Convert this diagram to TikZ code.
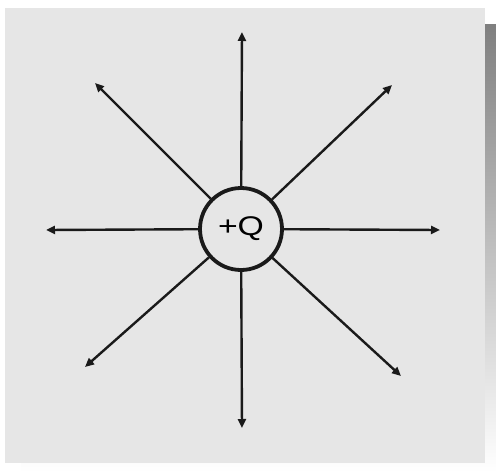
\documentclass[tikz,border=0pt]{standalone}
\usepackage{fontspec}
\setsansfont{Liberation Sans}
\usepackage{tikz}
\usetikzlibrary{arrows.meta,positioning,calc}
\definecolor{panel}{HTML}{E6E6E6}
\definecolor{shade}{HTML}{BDBDBD}
\definecolor{ink}{HTML}{1A1A1A}
\tikzset{
  chg/.style={draw=ink,circle,line width=3.8pt,fill=panel,minimum size=82pt,inner sep=0pt,font=\sffamily\fontsize{27}{27}\selectfont},
  arr/.style={-{Triangle[length=9pt,width=8pt]},line width=2.4pt,draw=ink},
}

\begin{document}
\begin{tikzpicture}[x=1pt,y=-1pt]
 \useasboundingbox (0,0) rectangle (496,472);
 \fill[shade] (21,24) rectangle (496,472);
 \fill[panel] (5,8) rectangle (485,463);
 % field lines
 \coordinate (tn) at (242,32);
 \coordinate (ts) at (242,428);
 \coordinate (tw) at (46,230);
 \coordinate (te) at (440,230);
 \coordinate (tnw) at (95,83);
 \coordinate (tne) at (392,85);
 \coordinate (tsw) at (85,367);
 \coordinate (tse) at (401,376);
 \node[chg] (q) at (241,229) {\scalebox{1.25}[1]{+Q}};
 \foreach \t in {tn,ts,tw,te,tnw,tne,tsw,tse}
  \draw[arr] (q) -- (\t);
\end{tikzpicture}
\end{document}
